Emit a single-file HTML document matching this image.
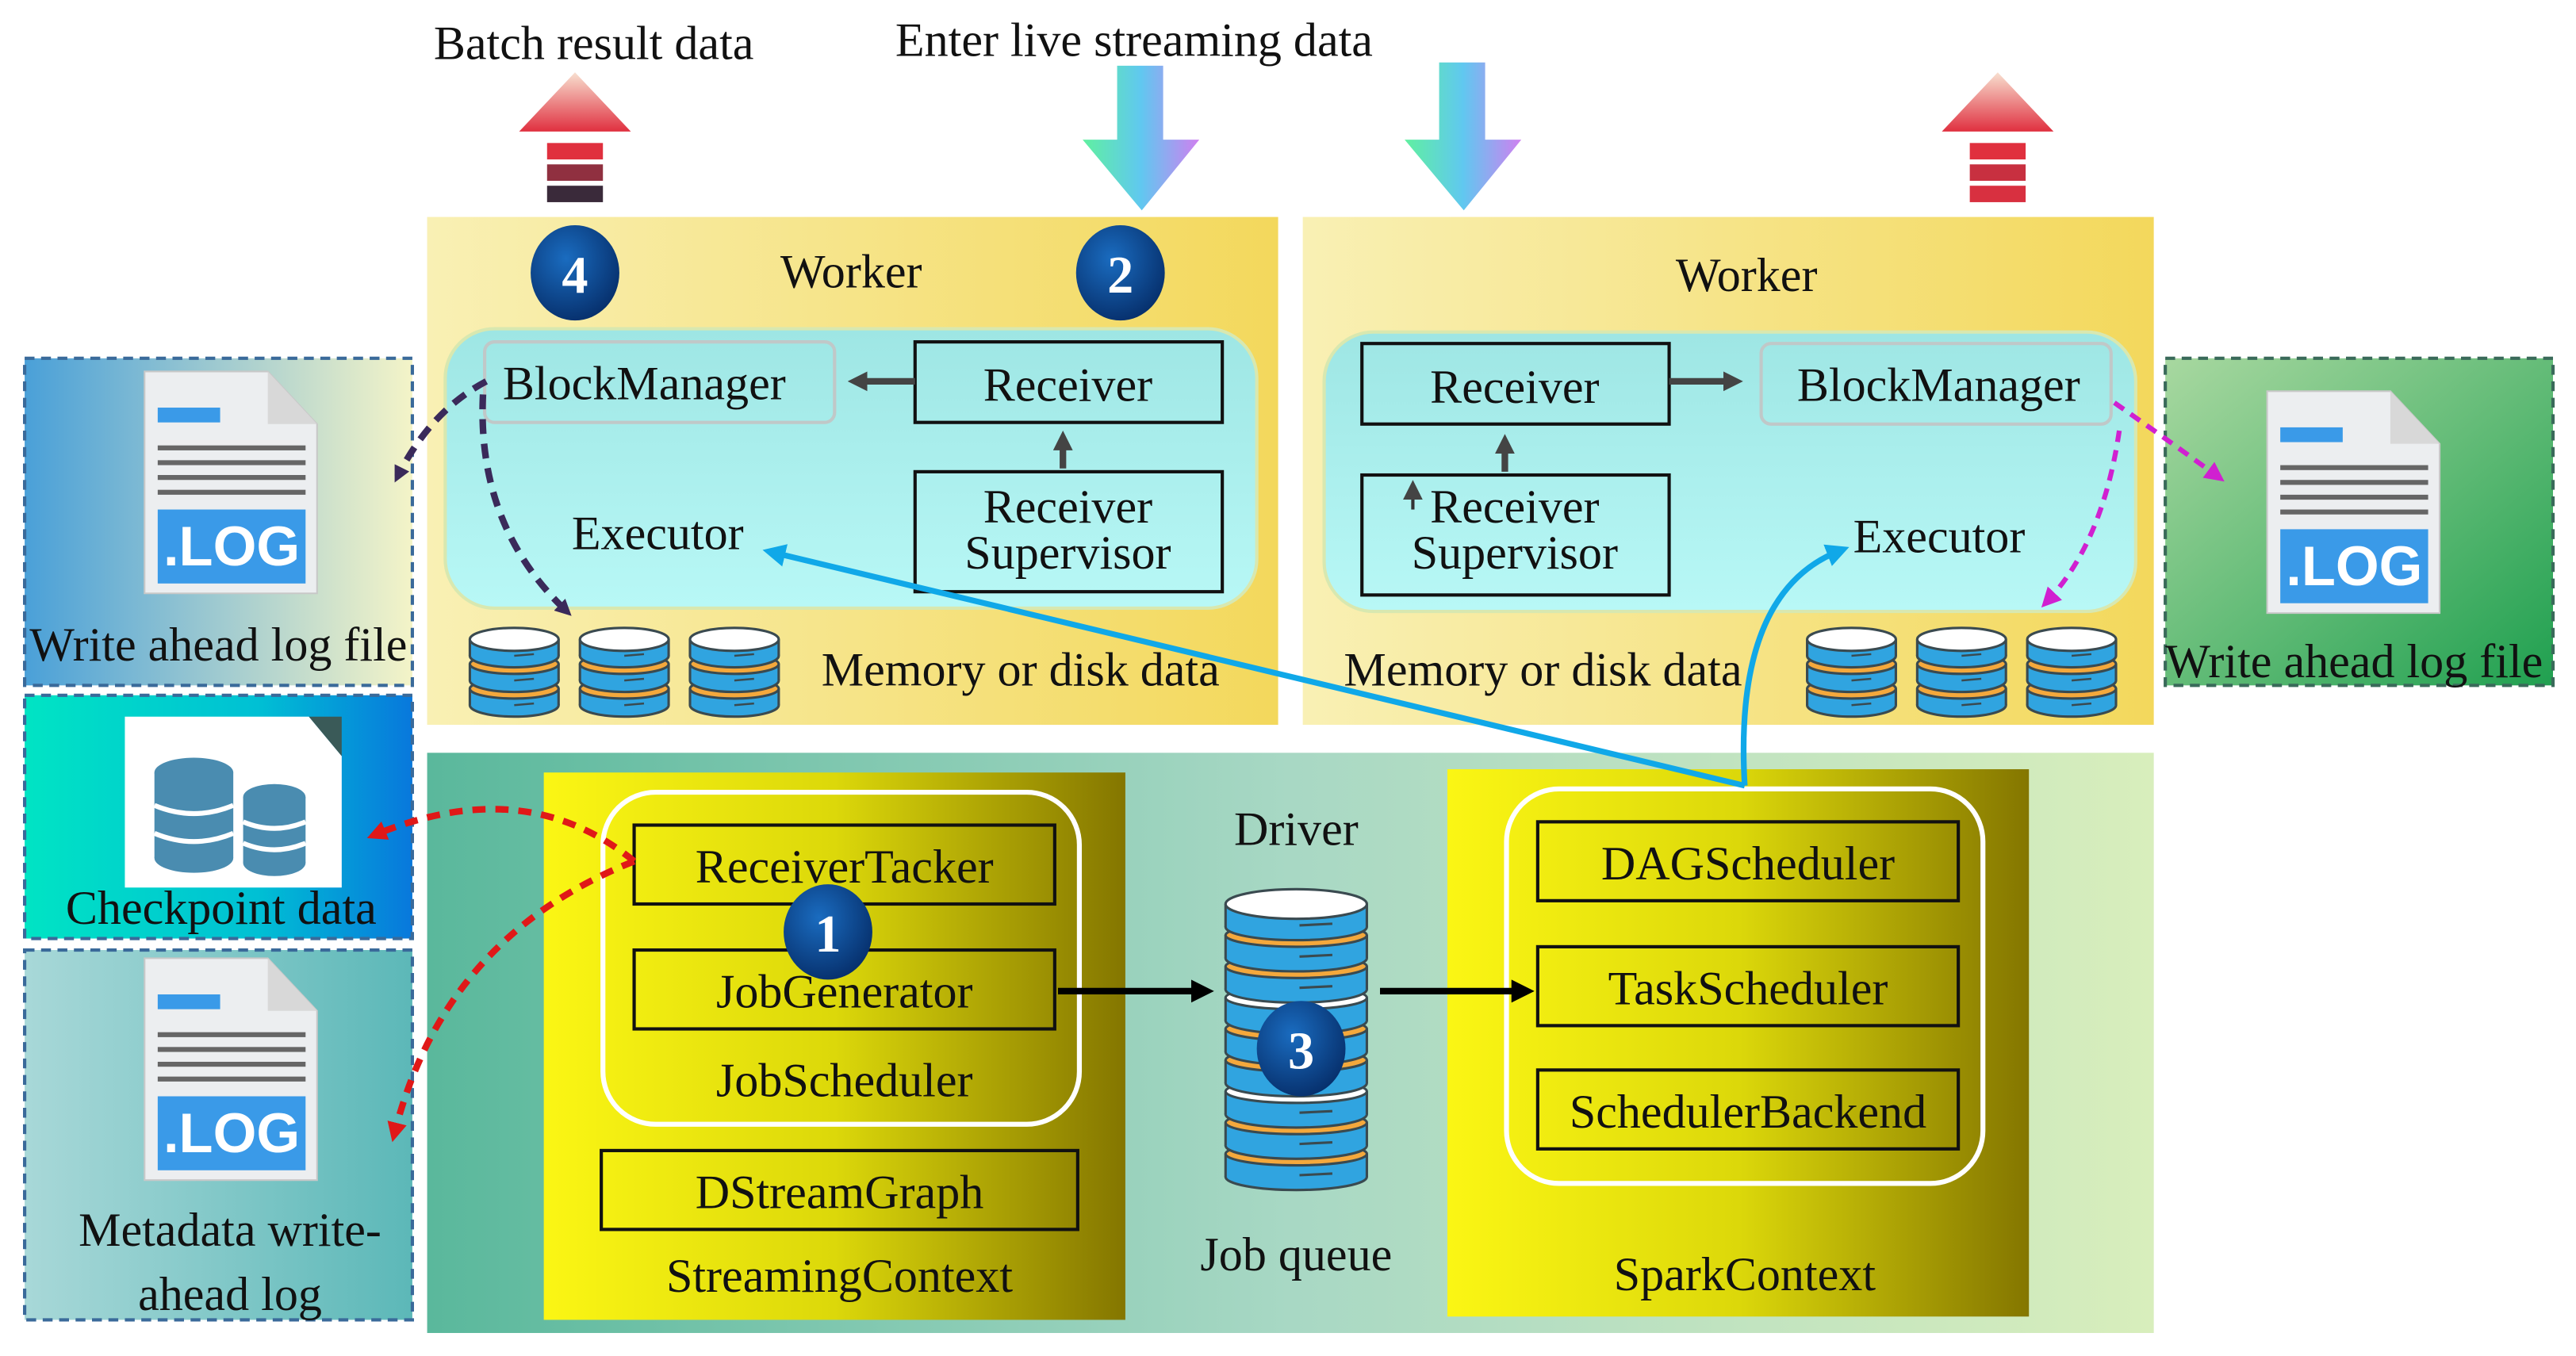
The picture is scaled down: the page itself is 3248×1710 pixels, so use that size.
<!DOCTYPE html>
<html><head><meta charset="utf-8"><style>html,body{margin:0;padding:0;background:#fff}svg{display:block}text{font-family:"Liberation Serif",serif;fill:#111}</style></head><body>
<svg width="3248" height="1710" viewBox="0 0 1568 825" preserveAspectRatio="none" xmlns="http://www.w3.org/2000/svg">
<defs>
<linearGradient id="wk" x1="0" x2="1"><stop offset="0" stop-color="#f9f0b4"/><stop offset="1" stop-color="#f3d85c"/></linearGradient>
<linearGradient id="ex" x1="0" y1="0" x2="0" y2="1"><stop offset="0" stop-color="#9ee6e4"/><stop offset="1" stop-color="#b8f8f6"/></linearGradient>
<linearGradient id="dr" x1="0" x2="1"><stop offset="0" stop-color="#5ab89c"/><stop offset="0.5" stop-color="#a8d8c4"/><stop offset="1" stop-color="#d8eebc"/></linearGradient>
<linearGradient id="yl" x1="0" x2="1"><stop offset="0" stop-color="#fbf614"/><stop offset="0.5" stop-color="#dcd80a"/><stop offset="1" stop-color="#847600"/></linearGradient>
<linearGradient id="lp1" x1="0" x2="1"><stop offset="0" stop-color="#4aa0d8"/><stop offset="1" stop-color="#f4f4c8"/></linearGradient>
<linearGradient id="lp2" x1="0" x2="1"><stop offset="0" stop-color="#00e4c4"/><stop offset="0.6" stop-color="#00c0d4"/><stop offset="1" stop-color="#0878dc"/></linearGradient>
<linearGradient id="lp3" x1="0" x2="1"><stop offset="0" stop-color="#a8d8d8"/><stop offset="1" stop-color="#5cb8b8"/></linearGradient>
<linearGradient id="rp" x1="0" y1="0" x2="1" y2="1"><stop offset="0" stop-color="#a8d8a0"/><stop offset="1" stop-color="#20a050"/></linearGradient>
<linearGradient id="dn" x1="0" x2="1"><stop offset="0" stop-color="#60f0a0"/><stop offset="0.5" stop-color="#60c8f0"/><stop offset="1" stop-color="#d080f0"/></linearGradient>
<linearGradient id="up" x1="0" y1="0" x2="0" y2="1"><stop offset="0" stop-color="#f8e0d0"/><stop offset="1" stop-color="#e03040"/></linearGradient>
<radialGradient id="cb" cx="0.4" cy="0.35" r="0.7"><stop offset="0" stop-color="#1a6cc0"/><stop offset="1" stop-color="#062e6a"/></radialGradient>
<g id="sg"><ellipse cx="0" cy="10" rx="27" ry="7" fill="#30a4e0" stroke="#3a4a50" stroke-width="1.5"/><rect x="-27" y="0" width="54" height="10" fill="#30a4e0"/><line x1="-27" y1="0" x2="-27" y2="10" stroke="#3a4a50" stroke-width="1.5"/><line x1="27" y1="0" x2="27" y2="10" stroke="#3a4a50" stroke-width="1.5"/><line x1="0" y1="10" x2="12" y2="9" stroke="#3a4a50" stroke-width="1.2"/></g>
<g id="disk">
<use href="#sg" y="30"/><ellipse cx="0" cy="30" rx="27" ry="6" fill="#f4a83c" stroke="#3a4a50" stroke-width="1.5"/>
<use href="#sg" y="15"/><ellipse cx="0" cy="15" rx="27" ry="6" fill="#f4a83c" stroke="#3a4a50" stroke-width="1.5"/>
<use href="#sg" y="0"/><ellipse cx="0" cy="0" rx="27" ry="7" fill="#fff" stroke="#3a4a50" stroke-width="1.5"/>
</g>
<g id="bsg"><ellipse cx="0" cy="14" rx="43" ry="8" fill="#30a4e0" stroke="#3a4a50" stroke-width="1.5"/><rect x="-43" y="0" width="86" height="14" fill="#30a4e0"/><line x1="-43" y1="0" x2="-43" y2="14" stroke="#3a4a50" stroke-width="1.5"/><line x1="43" y1="0" x2="43" y2="14" stroke="#3a4a50" stroke-width="1.5"/><line x1="2" y1="13" x2="22" y2="12" stroke="#3a4a50" stroke-width="1.5"/></g>
<g id="logf">
<path d="M0 0 H75 L105 32 V135 H0 Z" fill="#eceef0" stroke="#c8c8c8"/>
<path d="M75 0 V32 H105" fill="#d8d8d8"/>
<rect x="8" y="22" width="38" height="9" fill="#3a9ae8"/>
<rect x="8" y="45" width="90" height="3" fill="#666"/><rect x="8" y="54" width="90" height="3" fill="#666"/><rect x="8" y="63" width="90" height="3" fill="#666"/><rect x="8" y="72" width="90" height="3" fill="#666"/>
<rect x="8" y="84" width="90" height="45" fill="#3a9ae8"/>
<text x="53" y="118" text-anchor="middle" style="font-family:'Liberation Sans',sans-serif;font-weight:bold;font-size:34px;fill:#fff">.LOG</text>
</g>
<marker id="ad" markerWidth="10" markerHeight="10" refX="6" refY="5" orient="auto" markerUnits="userSpaceOnUse"><path d="M0 0 L10 5 L0 10 Z" fill="#3a2a5a"/></marker>
<marker id="ar" markerWidth="12" markerHeight="12" refX="7" refY="6" orient="auto" markerUnits="userSpaceOnUse"><path d="M0 0 L12 6 L0 12 Z" fill="#e01818"/></marker>
<marker id="am" markerWidth="12" markerHeight="12" refX="7" refY="6" orient="auto" markerUnits="userSpaceOnUse"><path d="M0 0 L12 6 L0 12 Z" fill="#d020d0"/></marker>
<marker id="ab" markerWidth="14" markerHeight="14" refX="8" refY="7" orient="auto" markerUnits="userSpaceOnUse"><path d="M0 0 L14 7 L0 14 Z" fill="#10a8e8"/></marker>
<marker id="ak" markerWidth="14" markerHeight="14" refX="8" refY="7" orient="auto" markerUnits="userSpaceOnUse"><path d="M0 0 L14 7 L0 14 Z" fill="#000"/></marker>
<marker id="ag" markerWidth="12" markerHeight="12" refX="6" refY="6" orient="auto" markerUnits="userSpaceOnUse"><path d="M0 0 L12 6 L0 12 Z" fill="#444"/></marker>
</defs>

<g style="font-size:29px">
<text x="264" y="36">Batch result data</text>
<text x="545" y="34">Enter live streaming data</text>
</g>

<g>
<path d="M316 80 L350 44 L384 80 Z" fill="url(#up)"/>
<rect x="333" y="87" width="34" height="10" fill="#e0303e"/><rect x="333" y="100" width="34" height="10" fill="#903040"/><rect x="333" y="113" width="34" height="10" fill="#3a2a3a"/>
<path d="M1182 80 L1216 44 L1250 80 Z" fill="url(#up)"/>
<rect x="1199" y="87" width="34" height="10" fill="#e0303e"/><rect x="1199" y="100" width="34" height="10" fill="#c83040"/><rect x="1199" y="113" width="34" height="10" fill="#d83040"/>
<path d="M680 40 H708 V85 H730 L695 128 L659 85 H680 Z" fill="url(#dn)"/>
<path d="M876 38 H904 V85 H926 L891 128 L855 85 H876 Z" fill="url(#dn)"/>
</g>

<rect x="260" y="132" width="518" height="309" fill="url(#wk)"/>
<rect x="793" y="132" width="518" height="309" fill="url(#wk)"/>
<rect x="271" y="200" width="494" height="170" rx="30" fill="url(#ex)" stroke="#d8e8b0" stroke-width="2"/>
<rect x="806" y="202" width="494" height="170" rx="30" fill="url(#ex)" stroke="#d8e8b0" stroke-width="2"/>
<g style="font-size:29px">
<text x="475" y="175">Worker</text>
<text x="1020" y="177">Worker</text>
<rect x="295" y="208" width="213" height="49" rx="6" fill="none" stroke="#c0c8c8" stroke-width="2"/>
<text x="306" y="243">BlockManager</text>
<rect x="557" y="208" width="187" height="49" fill="none" stroke="#111" stroke-width="2"/>
<text x="650" y="244" text-anchor="middle">Receiver</text>
<rect x="557" y="287" width="187" height="73" fill="none" stroke="#111" stroke-width="2"/>
<text x="650" y="318" text-anchor="middle">Receiver</text><text x="650" y="346" text-anchor="middle">Supervisor</text>
<text x="348" y="334">Executor</text>
<text x="500" y="417">Memory or disk data</text>

<rect x="829" y="209" width="187" height="49" fill="none" stroke="#111" stroke-width="2"/>
<text x="922" y="245" text-anchor="middle">Receiver</text>
<rect x="1072" y="209" width="213" height="49" rx="6" fill="none" stroke="#c0c8c8" stroke-width="2"/>
<text x="1180" y="244" text-anchor="middle">BlockManager</text>
<rect x="829" y="289" width="187" height="73" fill="none" stroke="#111" stroke-width="2"/>
<text x="922" y="318" text-anchor="middle">Receiver</text><text x="922" y="346" text-anchor="middle">Supervisor</text>
<text x="1128" y="336">Executor</text>
<text x="818" y="417">Memory or disk data</text>
</g>
<line x1="557" y1="232" x2="522" y2="232" stroke="#444" stroke-width="4" marker-end="url(#ag)"/>
<line x1="647" y1="285" x2="647" y2="268" stroke="#444" stroke-width="4" marker-end="url(#ag)"/>
<line x1="1016" y1="232" x2="1055" y2="232" stroke="#444" stroke-width="4" marker-end="url(#ag)"/>
<line x1="916" y1="287" x2="916" y2="270" stroke="#444" stroke-width="4" marker-end="url(#ag)"/>
<line x1="860" y1="310" x2="860" y2="298" stroke="#333" stroke-width="2" marker-end="url(#ag)"/>

<use href="#disk" x="313" y="389"/><use href="#disk" x="380" y="389"/><use href="#disk" x="447" y="389"/>
<use href="#disk" x="1127" y="389"/><use href="#disk" x="1194" y="389"/><use href="#disk" x="1261" y="389"/>

<rect x="15" y="218" width="236" height="199" fill="url(#lp1)" stroke="#3a6a9a" stroke-width="2" stroke-dasharray="6 4"/>
<use href="#logf" x="88" y="226"/>
<text x="18" y="402" style="font-size:29px">Write ahead log file</text>
<rect x="15" y="423" width="236" height="148" fill="url(#lp2)" stroke="#3a6a9a" stroke-width="2" stroke-dasharray="6 4"/>
<path d="M76 436 H188 L208 460 V540 H76 Z" fill="#fff"/><path d="M188 436 L208 460 V436 Z" fill="#3a5a58"/>
<g fill="#4a8cb0">
<ellipse cx="118" cy="470" rx="24" ry="9"/><rect x="94" y="470" width="48" height="52"/><ellipse cx="118" cy="522" rx="24" ry="9"/>
<ellipse cx="167" cy="485" rx="19" ry="8"/><rect x="148" y="485" width="38" height="40"/><ellipse cx="167" cy="525" rx="19" ry="8"/>
</g>
<g stroke="#fff" stroke-width="3" fill="none"><path d="M94 490 Q118 500 142 490"/><path d="M94 507 Q118 517 142 507"/><path d="M148 500 Q167 508 186 500"/><path d="M148 513 Q167 521 186 513"/></g>
<text x="40" y="562" style="font-size:29px">Checkpoint data</text>
<rect x="15" y="578" width="236" height="225" fill="url(#lp3)" stroke="#3a6a9a" stroke-width="2" stroke-dasharray="6 4"/>
<use href="#logf" x="88" y="583"/>
<text x="140" y="758" text-anchor="middle" style="font-size:29px">Metadata write-</text>
<text x="140" y="797" text-anchor="middle" style="font-size:29px">ahead log</text>

<rect x="1318" y="218" width="236" height="199" fill="url(#rp)" stroke="#3a6a5a" stroke-width="2" stroke-dasharray="6 4"/>
<use href="#logf" x="1380" y="238"/>
<text x="1318" y="412" style="font-size:29px">Write ahead log file</text>

<rect x="260" y="458" width="1051" height="353" fill="url(#dr)"/>
<rect x="331" y="470" width="354" height="333" fill="url(#yl)"/>
<rect x="881" y="468" width="354" height="333" fill="url(#yl)"/>
<rect x="367" y="482" width="290" height="202" rx="32" fill="none" stroke="#fff" stroke-width="3"/>
<rect x="917" y="480" width="290" height="240" rx="32" fill="none" stroke="#fff" stroke-width="3"/>
<g style="font-size:29px">
<rect x="386" y="502" width="256" height="48" fill="none" stroke="#111" stroke-width="2"/>
<text x="514" y="537" text-anchor="middle">ReceiverTacker</text>
<rect x="386" y="578" width="256" height="48" fill="none" stroke="#111" stroke-width="2"/>
<text x="514" y="613" text-anchor="middle">JobGenerator</text>
<text x="514" y="667" text-anchor="middle">JobScheduler</text>
<rect x="366" y="700" width="290" height="48" fill="none" stroke="#111" stroke-width="2"/>
<text x="511" y="735" text-anchor="middle">DStreamGraph</text>
<text x="511" y="786" text-anchor="middle">StreamingContext</text>
<rect x="936" y="500" width="256" height="48" fill="none" stroke="#111" stroke-width="2"/>
<text x="1064" y="535" text-anchor="middle">DAGScheduler</text>
<rect x="936" y="576" width="256" height="48" fill="none" stroke="#111" stroke-width="2"/>
<text x="1064" y="611" text-anchor="middle">TaskScheduler</text>
<rect x="936" y="651" width="256" height="48" fill="none" stroke="#111" stroke-width="2"/>
<text x="1064" y="686" text-anchor="middle">SchedulerBackend</text>
<text x="1062" y="785" text-anchor="middle">SparkContext</text>
<text x="789" y="514" text-anchor="middle">Driver</text>
<text x="789" y="773" text-anchor="middle">Job queue</text>
</g>
<g transform="translate(789,0)">
<use href="#bsg" y="702"/><ellipse cx="0" cy="702" rx="43" ry="7" fill="#f4a83c" stroke="#3a4a50" stroke-width="1.5"/>
<use href="#bsg" y="683"/><ellipse cx="0" cy="683" rx="43" ry="7" fill="#f4a83c" stroke="#3a4a50" stroke-width="1.5"/>
<use href="#bsg" y="664"/><ellipse cx="0" cy="664" rx="43" ry="7" fill="#fff" stroke="#3a4a50" stroke-width="1.5"/>
<use href="#bsg" y="645"/><ellipse cx="0" cy="645" rx="43" ry="7" fill="#f4a83c" stroke="#3a4a50" stroke-width="1.5"/>
<use href="#bsg" y="626"/><ellipse cx="0" cy="626" rx="43" ry="7" fill="#f4a83c" stroke="#3a4a50" stroke-width="1.5"/>
<use href="#bsg" y="607"/><ellipse cx="0" cy="607" rx="43" ry="7" fill="#fff" stroke="#3a4a50" stroke-width="1.5"/>
<use href="#bsg" y="588"/><ellipse cx="0" cy="588" rx="43" ry="7" fill="#f4a83c" stroke="#3a4a50" stroke-width="1.5"/>
<use href="#bsg" y="569"/><ellipse cx="0" cy="569" rx="43" ry="7" fill="#f4a83c" stroke="#3a4a50" stroke-width="1.5"/>
<use href="#bsg" y="550"/><ellipse cx="0" cy="550" rx="43" ry="9" fill="#fff" stroke="#3a4a50" stroke-width="1.5"/>
</g>
<line x1="644" y1="603" x2="733" y2="603" stroke="#000" stroke-width="4" marker-end="url(#ak)"/>
<line x1="840" y1="603" x2="928" y2="603" stroke="#000" stroke-width="4" marker-end="url(#ak)"/>

<path d="M296 232 Q262 250 242 290" fill="none" stroke="#3a2a5a" stroke-width="4" stroke-dasharray="9 6" marker-end="url(#ad)"/>
<path d="M294 240 Q290 320 345 372" fill="none" stroke="#3a2a5a" stroke-width="4" stroke-dasharray="9 6" marker-end="url(#ad)"/>
<path d="M1287 245 Q1320 268 1350 290" fill="none" stroke="#d020d0" stroke-width="3" stroke-dasharray="7 5" marker-end="url(#am)"/>
<path d="M1290 262 Q1280 330 1246 366" fill="none" stroke="#d020d0" stroke-width="3" stroke-dasharray="7 5" marker-end="url(#am)"/>
<path d="M386 524 Q320 470 228 508" fill="none" stroke="#e01818" stroke-width="4" stroke-dasharray="8 6" marker-end="url(#ar)"/>
<path d="M386 524 Q270 570 240 690" fill="none" stroke="#e01818" stroke-width="4" stroke-dasharray="8 6" marker-end="url(#ar)"/>
<path d="M1062 478 L470 336" fill="none" stroke="#10a8e8" stroke-width="3.5" marker-end="url(#ab)"/>
<path d="M1062 478 Q1055 360 1120 335" fill="none" stroke="#10a8e8" stroke-width="3.5" marker-end="url(#ab)"/>

<g style="font-family:'Liberation Sans',sans-serif;font-weight:bold;font-size:32px">
<ellipse cx="350" cy="166" rx="27" ry="29" fill="url(#cb)"/><text x="350" y="178" text-anchor="middle" style="fill:#fff">4</text>
<ellipse cx="682" cy="166" rx="27" ry="29" fill="url(#cb)"/><text x="682" y="178" text-anchor="middle" style="fill:#fff">2</text>
<ellipse cx="504" cy="567" rx="27" ry="29" fill="url(#cb)"/><text x="504" y="579" text-anchor="middle" style="fill:#fff">1</text>
<ellipse cx="792" cy="638" rx="27" ry="29" fill="url(#cb)"/><text x="792" y="650" text-anchor="middle" style="fill:#fff">3</text>
</g>
</svg>
</body></html>
